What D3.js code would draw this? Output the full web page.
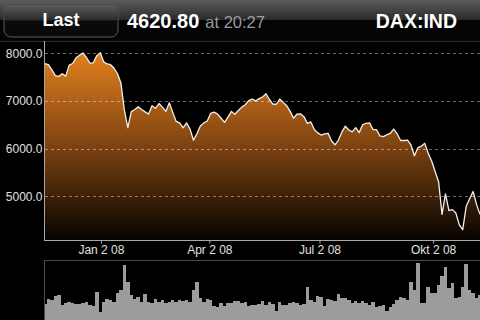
<!DOCTYPE html>
<html>
<head>
<meta charset="utf-8">
<script src="https://cdn.jsdelivr.net/npm/d3@7"></script>
<style>
  html, body { margin: 0; padding: 0; background: #000; overflow: hidden; }
  svg { display: block; font-family: Helvetica, 'Liberation Sans', Arial, sans-serif; }
</style>
</head>
<body>
<svg id="chart" width="480" height="320"></svg>
<script>
// DAX:IND, one close and one volume every 2nd trading day (mid Nov 2007 -> Nov 2008)
const closes = [
  7780, 7760, 7650, 7530, 7515, 7570, 7520, 7750, 7785, 7905,
  7960, 8005, 7910, 7795, 7800, 7950, 8010, 7820, 7775, 7760,
  7685, 7570, 7375, 6800, 6440, 6775, 6820, 6875, 6820, 6770,
  6725, 6900, 6846, 6945, 6870, 6780, 6960, 6760, 6570, 6540,
  6435, 6540, 6410, 6175, 6310, 6475, 6540, 6580, 6740, 6765,
  6725, 6636, 6550, 6660, 6780, 6720, 6800, 6870, 6920, 7005,
  7040, 7000, 7048, 7080, 7150, 7030, 6935, 6930, 7040, 6970,
  6900, 6780, 6640, 6725, 6730, 6670, 6530, 6560, 6400, 6330,
  6285, 6310, 6320, 6160, 6080, 6180, 6350, 6470, 6390, 6350,
  6440, 6335, 6500, 6530, 6540, 6400, 6400, 6265, 6250, 6290,
  6320, 6410, 6310, 6170, 6170, 6180, 6076, 5850, 6020, 6050,
  6110, 5900, 5740, 5520, 5306, 4620, 5050, 4700, 4720, 4650,
  4400, 4300, 4790, 4950, 5100, 4830, 4620
];

const volumes = [
  16, 21, 20, 24, 25, 15, 17, 18, 17, 16,
  16, 17, 18, 15, 14, 28, 8, 18, 21, 20,
  18, 27, 30, 55, 38, 25, 21, 23, 18, 26,
  18, 17, 21, 18, 20, 17, 18, 20, 18, 20,
  19, 20, 18, 30, 38, 22, 18, 21, 20, 14,
  13, 17, 14, 17, 17, 19, 19, 17, 18, 14,
  15, 15, 16, 19, 15, 18, 16, 9, 18, 15,
  15, 17, 18, 17, 15, 16, 33, 20, 18, 24,
  23, 14, 21, 20, 19, 26, 22, 22, 20, 17,
  19, 17, 19, 17, 15, 18, 13, 14, 15, 9,
  13, 16, 20, 23, 22, 20, 38, 30, 57, 17,
  17, 33, 27, 27, 35, 44, 53, 32, 37, 22,
  23, 33, 56, 30, 27, 22, 25
];

const yTicks = [5000, 6000, 7000, 8000];
const xTickLabels = ['Jan 2 08', 'Apr 2 08', 'Jul 2 08', 'Okt 2 08'];
const xTickIndex = [16.2, 47.6, 79.5, 112.4];   // where each date falls in the series

const symbol = 'DAX:IND';
const lastPrice = 4620.80;
const lastTime = '20:27';

const svg = d3.select('#chart');
const W = 480, H = 320;

const plot = {left: 45, right: 480, top: 41, bottom: 240};
const vol = {top: 260, bottom: 320};

svg.append('rect').attr('width', W).attr('height', H).attr('fill', '#000');

const defs = svg.append('defs');

const areaGrad = defs.append('linearGradient')
  .attr('id', 'areaGrad')
  .attr('gradientUnits', 'userSpaceOnUse')
  .attr('x1', 0).attr('x2', 0).attr('y1', 45).attr('y2', 245);
areaGrad.append('stop').attr('offset', 0).attr('stop-color', '#ea851f');
areaGrad.append('stop').attr('offset', 0.45).attr('stop-color', '#8a4a12');
areaGrad.append('stop').attr('offset', 1).attr('stop-color', '#000');

const headGrad = defs.append('linearGradient')
  .attr('id', 'headGrad')
  .attr('x1', 0).attr('x2', 0).attr('y1', 0).attr('y2', 1);
headGrad.append('stop').attr('offset', 0).attr('stop-color', '#5c5c5c');
headGrad.append('stop').attr('offset', 1).attr('stop-color', '#2a2a2a');

defs.append('clipPath').attr('id', 'plotClip')
  .append('rect')
  .attr('x', plot.left).attr('y', plot.top)
  .attr('width', plot.right - plot.left).attr('height', vol.bottom - plot.top);

// scales
const x = d3.scaleLinear()
  .domain([0, closes.length - 1])
  .range([plot.left, plot.right]);

const y = d3.scaleLinear()
  .domain([4083, 8278])
  .range([plot.bottom, plot.top - 1]);

const v = d3.scaleLinear()
  .domain([0, 60])
  .range([vol.bottom, vol.top]);

const step = x(1) - x(0);

// header
{
  svg.append('rect').attr('x', 0).attr('y', 0).attr('width', W).attr('height', 20)
    .attr('fill', 'url(#headGrad)');
  svg.append('rect').attr('x', 0).attr('y', 20).attr('width', W).attr('height', 21)
    .attr('fill', '#040404');

  const bx = 4, by = 4, bw = 114, bh = 33, r = 7;
  svg.append('rect')
    .attr('x', bx).attr('y', by).attr('width', bw).attr('height', bh)
    .attr('rx', r)
    .attr('fill', '#0a0a0a')
    .attr('stroke', '#5a5a5a');
  svg.append('path')
    .attr('d', `M${bx + 0.5} ${by + bh / 2} L${bx + 0.5} ${by + r} Q${bx + 0.5} ${by + 0.5} ${bx + r} ${by + 0.5}
                L${bx + bw - r} ${by + 0.5} Q${bx + bw - 0.5} ${by + 0.5} ${bx + bw - 0.5} ${by + r}
                L${bx + bw - 0.5} ${by + bh / 2} Z`)
    .attr('fill', 'url(#headGrad)');

  svg.append('text')
    .attr('x', bx + bw / 2).attr('y', 26)
    .attr('text-anchor', 'middle')
    .attr('fill', '#fff')
    .style('font-size', '18px').style('font-weight', 'bold')
    .text('Last');

  const quote = svg.append('text').attr('x', 127).attr('y', 27.5);
  quote.append('tspan')
    .attr('fill', '#fff')
    .style('font-size', '20px').style('font-weight', 'bold')
    .text(d3.format('.2f')(lastPrice));
  quote.append('tspan')
    .attr('dx', 6)
    .attr('fill', '#9a9a9a')
    .style('font-size', '16.5px')
    .text('at ' + lastTime);

  svg.append('text')
    .attr('x', 457).attr('y', 27.5)
    .attr('text-anchor', 'end')
    .attr('fill', '#fff')
    .style('font-size', '19.5px').style('font-weight', 'bold')
    .text(symbol);

  svg.append('line')
    .attr('x1', 0).attr('x2', W).attr('y1', 41.5).attr('y2', 41.5)
    .attr('stroke', '#2c2c2c');
}

// price area + line
const g = svg.append('g').attr('clip-path', 'url(#plotClip)');

g.append('path')
  .datum(closes)
  .attr('fill', 'url(#areaGrad)')
  .attr('d', d3.area()
    .x((d, i) => x(i))
    .y0(plot.bottom)
    .y1(d => y(d)));

// grid
svg.append('g')
  .selectAll('line')
  .data(yTicks)
  .enter()
  .append('line')
  .attr('x1', plot.left).attr('x2', plot.right)
  .attr('y1', d => Math.round(y(d)) + 0.5)
  .attr('y2', d => Math.round(y(d)) + 0.5)
  .attr('stroke', 'rgba(255,255,255,0.42)')
  .attr('stroke-dasharray', '3,3');

g.append('path')
  .datum(closes)
  .attr('fill', 'none')
  .attr('stroke', '#f4efe8')
  .attr('stroke-width', 1.3)
  .attr('stroke-linejoin', 'round')
  .attr('d', d3.line()
    .x((d, i) => x(i))
    .y(d => y(d)));

// axes
const yAxis = svg.append('g')
  .attr('transform', `translate(${plot.left - 0.5},0)`)
  .call(d3.axisLeft(y).tickValues(yTicks).tickFormat(d3.format('.1f')).tickSize(0).tickPadding(2));
yAxis.select('.domain').remove();
yAxis.selectAll('text')
  .attr('fill', '#e0e0e0')
  .style('font-size', '12px')
  .style('font-family', null);

svg.append('line')
  .attr('x1', plot.left - 0.5).attr('x2', plot.left - 0.5)
  .attr('y1', plot.top).attr('y2', plot.bottom)
  .attr('stroke', '#a8a8a8');

const xAxis = svg.append('g')
  .attr('transform', `translate(0,${plot.bottom + 0.5})`)
  .call(d3.axisBottom(x)
    .tickValues(xTickIndex)
    .tickFormat((d, i) => xTickLabels[i])
    .tickSize(3)
    .tickSizeOuter(0)
    .tickPadding(2));
xAxis.select('.domain')
  .attr('stroke', '#a8a8a8')
  .attr('d', `M${plot.left - 1},0H${plot.right}`);
xAxis.selectAll('.tick line').attr('stroke', '#a8a8a8');
xAxis.selectAll('text')
  .attr('fill', '#e0e0e0')
  .style('font-size', '12px')
  .style('font-family', null);

// volume panel
{
  svg.append('line')
    .attr('x1', plot.left - 1).attr('x2', plot.right)
    .attr('y1', vol.top + 0.5).attr('y2', vol.top + 0.5)
    .attr('stroke', '#4a4a4a');
  svg.append('line')
    .attr('x1', plot.left - 0.5).attr('x2', plot.left - 0.5)
    .attr('y1', vol.top).attr('y2', vol.bottom)
    .attr('stroke', '#4a4a4a');

  // snap bar edges to whole pixels so neighbours touch without seams
  const left = i => Math.round(x(i) - step / 2);

  g.append('g')
    .attr('shape-rendering', 'crispEdges')
    .selectAll('rect')
    .data(volumes)
    .enter()
    .append('rect')
    .attr('x', (d, i) => left(i))
    .attr('width', (d, i) => left(i + 1) - left(i))
    .attr('y', d => Math.round(v(d)))
    .attr('height', d => vol.bottom - Math.round(v(d)))
    .attr('fill', '#9c9c9c');
}
</script>
</body>
</html>
